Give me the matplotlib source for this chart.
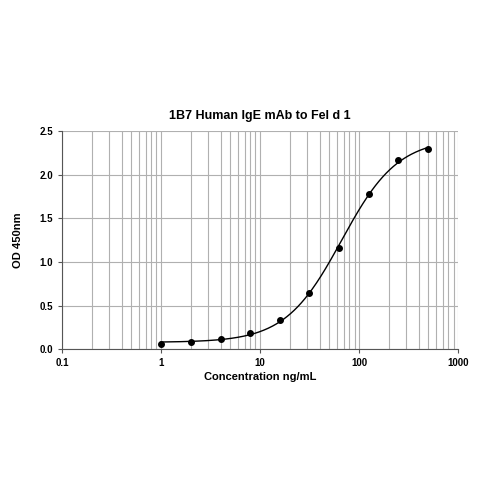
import matplotlib
matplotlib.use("Agg")
import matplotlib.pyplot as plt
import numpy as np
from matplotlib.ticker import LogLocator, FixedLocator, NullFormatter

plt.rcParams['font.family'] = ['Liberation Sans', 'DejaVu Sans']

# concentration (ng/mL) and OD 450nm readings
conc = [1, 2, 4, 8, 16, 31.25, 62.5, 125, 250, 500]
od = [0.065, 0.082, 0.113, 0.19, 0.33, 0.645, 1.164, 1.78, 2.17, 2.29]
x_ticks = [0.1, 1, 10, 100, 1000]
x_tick_labels = ['0.1', '1', '10', '100', '1000']
y_ticks = [0.0, 0.5, 1.0, 1.5, 2.0, 2.5]


def four_pl(x, a, b, c, d):
    return d + (a - d) / (1 + (x / c) ** b)


# fit a 4PL curve through the points with a crude gauss-newton
x = np.array(conc)
y = np.array(od)
p = np.array([0.07, 1.5, 70.0, 2.5])
for _ in range(200):
    r = y - four_pl(x, *p)
    J = np.zeros((len(x), 4))
    for k in range(4):
        dp = np.zeros(4)
        dp[k] = 1e-6 * max(abs(p[k]), 1)
        J[:, k] = (four_pl(x, *(p + dp)) - four_pl(x, *p)) / dp[k]
    step = np.linalg.lstsq(J, r, rcond=None)[0]
    p = p + 0.5 * step

fig = plt.figure(figsize=(4.92, 4.93), dpi=100)
ax = fig.add_axes([0.126, 0.2915, 0.805, 0.4425])

xs = np.logspace(0, np.log10(500), 300)
ax.plot(xs, four_pl(xs, *p), color='black', lw=1)
ax.plot(conc, od, 'o', color='black', ms=4)

ax.set_xscale('log')
ax.set_xlim(0.1, 1000)
ax.set_ylim(0, 2.5)
ax.xaxis.set_major_locator(FixedLocator(x_ticks))
ax.set_xticklabels(x_tick_labels)
ax.xaxis.set_minor_locator(LogLocator(base=10, subs=np.arange(2, 10)))
ax.xaxis.set_minor_formatter(NullFormatter())
ax.set_yticks(y_ticks)
ax.set_yticklabels(['%.1f' % v for v in y_ticks])

ax.grid(True, which='both', axis='x', color='#b0b0b0', lw=0.8)
ax.grid(True, which='major', axis='y', color='#b0b0b0', lw=0.8)
ax.set_axisbelow(True)

for s in ['top', 'right']:
    ax.spines[s].set_visible(False)
for s in ['left', 'bottom']:
    ax.spines[s].set_color('#555555')
    ax.spines[s].set_linewidth(0.8)

ax.tick_params(axis='both', which='major', labelsize=7, length=3, width=0.8, color='#555555')
ax.tick_params(axis='x', which='minor', length=0)
for lbl in ax.get_xticklabels() + ax.get_yticklabels():
    lbl.set_fontweight('bold')

ax.set_title('1B7 Human IgE mAb to Fel d 1', fontsize=9, fontweight='bold', pad=9)
ax.set_xlabel('Concentration ng/mL', fontsize=8, fontweight='bold', labelpad=3)
ax.set_ylabel('OD 450nm', fontsize=8, fontweight='bold', labelpad=12)

fig.savefig('out.png', dpi=100)
